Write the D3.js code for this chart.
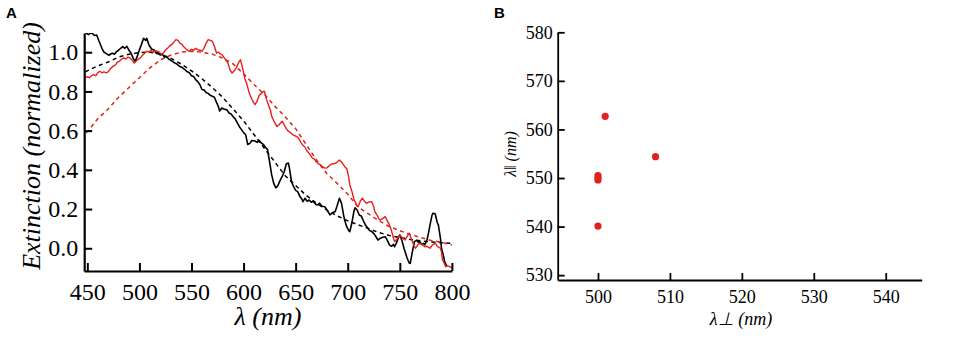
<!DOCTYPE html>
<html><head><meta charset="utf-8">
<script src="https://cdn.jsdelivr.net/npm/d3@7"></script>
<style>
html,body{margin:0;padding:0;background:#fff;}
svg{display:block;}
</style></head>
<body>
<svg id="chart" width="957" height="339"></svg>
<script>
// ---- Panel A data: wavelength (nm), normalized extinction ----
const blackMeasured = [[448,1.10],[451,1.09],[454,1.10],[457,1.085],[459,1.088],[461,1.06],[462,1.047],[464,1.02],[466,1.0],[467,0.997],[469,0.99],[471,0.985],[472,0.99],[474,0.995],[476,0.99],[478,1.003],[480,1.01],[482,1.02],[484,1.029],[486,1.02],[488,1.03],[490,1.01],[492,0.995],[494,0.97],[496,0.952],[498,0.98],[500,1.012],[502,1.04],[504,1.071],[506,1.06],[507,1.071],[509,1.04],[510,1.029],[512,1.015],[514,1.012],[516,0.995],[518,1.0],[520,0.986],[522,0.99],[524,0.975],[526,0.978],[528,0.965],[530,0.96],[532,0.952],[534,0.945],[536,0.94],[538,0.93],[540,0.925],[542,0.918],[544,0.91],[546,0.9],[548,0.895],[550,0.88],[552,0.876],[554,0.86],[556,0.85],[558,0.835],[560,0.81],[562,0.808],[564,0.795],[566,0.79],[568,0.78],[570,0.775],[572,0.77],[574,0.745],[576,0.72],[577,0.70],[579,0.715],[581,0.71],[584,0.706],[586,0.69],[588,0.685],[590,0.671],[592,0.66],[594,0.64],[596,0.62],[598,0.605],[600,0.59],[602,0.58],[604,0.529],[606,0.535],[608,0.55],[611,0.547],[613,0.54],[615,0.55],[617,0.537],[619,0.53],[621,0.515],[623,0.503],[625,0.44],[627,0.374],[629,0.33],[631,0.308],[633,0.32],[635,0.345],[637,0.365],[639,0.39],[641,0.43],[643,0.435],[644,0.41],[646,0.34],[648,0.315],[650,0.295],[652,0.289],[654,0.265],[656,0.25],[657,0.238],[659,0.255],[661,0.24],[663,0.246],[665,0.235],[667,0.24],[669,0.225],[671,0.221],[673,0.23],[675,0.215],[678,0.212],[680,0.195],[683,0.17],[685,0.18],[688,0.187],[690,0.22],[692,0.255],[694,0.23],[696,0.17],[697,0.144],[699,0.11],[701,0.09],[702,0.085],[704,0.13],[706,0.19],[707,0.206],[709,0.195],[711,0.17],[713,0.165],[715,0.14],[717,0.119],[719,0.105],[721,0.09],[723,0.085],[725,0.075],[727,0.06],[729,0.042],[731,0.05],[733,0.055],[736,0.059],[738,0.04],[740,0.017],[742,0.01],[744,0.02],[745,0.008],[747,0.03],[749,0.06],[750,0.068],[752,0.04],[754,0.0],[755,-0.017],[757,-0.05],[759,-0.075],[760,-0.077],[762,-0.02],[764,0.034],[766,0.04],[768,0.03],[769,0.034],[771,0.02],[773,0.025],[774,0.017],[776,0.04],[778,0.09],[779,0.119],[781,0.17],[782,0.179],[784,0.175],[786,0.13],[787,0.119],[789,0.05],[790,0.0],[792,-0.04],[793,-0.068],[795,-0.09]];

const redMeasured = [[448,0.869],[450,0.875],[452,0.87],[454,0.88],[456,0.886],[458,0.88],[460,0.895],[462,0.903],[464,0.895],[466,0.9],[468,0.894],[470,0.9],[472,0.915],[474,0.925],[475,0.929],[477,0.935],[479,0.95],[481,0.955],[483,0.965],[485,0.971],[487,0.965],[489,0.975],[491,0.971],[493,0.96],[495,0.945],[497,0.955],[499,0.965],[501,0.971],[503,0.985],[505,0.995],[507,1.005],[509,1.0],[511,1.01],[513,1.0],[515,1.008],[517,1.005],[519,1.0],[521,0.99],[523,0.996],[525,1.01],[527,1.02],[529,1.031],[531,1.04],[533,1.05],[535,1.064],[537,1.06],[539,1.045],[541,1.04],[542,1.031],[544,1.02],[546,1.01],[548,1.005],[550,1.015],[552,1.01],[554,1.02],[556,1.013],[558,1.01],[560,1.005],[562,1.02],[564,1.045],[566,1.064],[568,1.06],[570,1.056],[572,1.03],[574,0.996],[576,1.0],[578,0.99],[579,0.988],[581,0.975],[583,0.96],[585,0.945],[587,0.91],[589,0.894],[591,0.905],[593,0.92],[595,0.945],[597,0.962],[599,0.92],[601,0.869],[603,0.84],[605,0.8],[606,0.784],[608,0.76],[610,0.74],[611,0.733],[613,0.75],[615,0.78],[617,0.79],[619,0.8],[620,0.801],[622,0.76],[624,0.73],[626,0.7],[627,0.673],[629,0.65],[631,0.63],[632,0.622],[634,0.63],[637,0.648],[639,0.63],[641,0.61],[643,0.597],[645,0.59],[647,0.58],[649,0.575],[651,0.57],[653,0.56],[655,0.54],[657,0.525],[659,0.515],[661,0.495],[662,0.49],[664,0.476],[666,0.46],[668,0.455],[670,0.44],[672,0.43],[674,0.425],[676,0.415],[678,0.409],[680,0.41],[682,0.42],[683,0.425],[685,0.43],[688,0.433],[690,0.44],[692,0.45],[694,0.44],[696,0.425],[698,0.41],[699,0.408],[701,0.36],[702,0.323],[704,0.29],[706,0.25],[707,0.238],[709,0.215],[710,0.212],[712,0.24],[714,0.255],[716,0.24],[718,0.23],[720,0.235],[723,0.238],[725,0.21],[726,0.187],[728,0.17],[730,0.15],[731,0.144],[733,0.15],[736,0.161],[738,0.14],[740,0.119],[742,0.09],[744,0.05],[745,0.034],[747,0.045],[749,0.06],[750,0.068],[752,0.055],[755,0.042],[757,0.06],[759,0.077],[761,0.05],[763,0.02],[765,0.0],[767,0.015],[769,0.026],[771,0.02],[774,0.008],[776,0.01],[779,0.0],[781,0.015],[784,0.026],[786,0.01],[789,0.0],[790,-0.02],[791,-0.06],[793,-0.08],[794,-0.094],[796,-0.09],[798,-0.094],[800,-0.1]];

const blackFit = [[448,0.90],[460,0.93],[470,0.95],[480,0.975],[490,0.99],[500,0.998],[510,1.0],[520,0.99],[530,0.97],[540,0.94],[550,0.905],[560,0.865],[570,0.82],[580,0.77],[590,0.71],[600,0.65],[610,0.58],[620,0.51],[630,0.44],[640,0.37],[650,0.32],[660,0.27],[670,0.23],[680,0.195],[690,0.165],[700,0.14],[710,0.12],[720,0.10],[730,0.08],[740,0.065],[750,0.055],[760,0.045],[770,0.038],[780,0.032],[790,0.028],[800,0.025]];

const redFit = [[449,0.588],[460,0.66],[470,0.71],[480,0.77],[490,0.82],[500,0.87],[510,0.92],[520,0.96],[530,0.985],[540,1.0],[550,1.005],[560,1.0],[570,0.99],[580,0.97],[590,0.94],[600,0.89],[610,0.835],[620,0.785],[630,0.725],[640,0.67],[650,0.61],[660,0.53],[670,0.45],[680,0.38],[690,0.33],[700,0.275],[710,0.21],[720,0.175],[730,0.14],[740,0.11],[750,0.09],[760,0.07],[770,0.055],[780,0.04],[790,0.03],[800,0.017]];

const xTicksA = [450,500,550,600,650,700,750,800];
const yTicksA = [0.0,0.2,0.4,0.6,0.8,1.0];

// ---- Panel B data: λ⊥ (nm), λ‖ (nm) ----
const lambdaPerp = [500,500,500,500,501,508];
const lambdaPar  = [550.5,550.0,549.6,540.1,562.7,554.4];
const xTicksB = [500,510,520,530,540];
const yTicksB = [530,540,550,560,570,580];

const RED = "#e3211c";
const SERIF = "'Liberation Serif','Times New Roman',serif";
const svg = d3.select("#chart");

// ================= Panel A =================
const xA = d3.scaleLinear().domain([447,800]).range([84.2,451.9]);
const yA = d3.scaleLinear().domain([-0.116,1.098]).range([271,33]);

svg.append("defs").append("clipPath").attr("id","clipA")
  .append("rect").attr("x",84.2).attr("y",33).attr("width",451.9-84.2+2).attr("height",271-33);

const gA = svg.append("g");
const lineA = d3.line().x(d=>xA(d[0])).y(d=>yA(d[1]));
const plotA = gA.append("g").attr("clip-path","url(#clipA)");

plotA.append("path").datum(blackFit).attr("d",lineA)
  .attr("fill","none").attr("stroke","#000").attr("stroke-width",1.5).attr("stroke-dasharray","4,3.5");
plotA.append("path").datum(redFit).attr("d",lineA)
  .attr("fill","none").attr("stroke",RED).attr("stroke-width",1.5).attr("stroke-dasharray","4,3.5");
plotA.append("path").datum(blackMeasured).attr("d",lineA)
  .attr("fill","none").attr("stroke","#000").attr("stroke-width",1.6).attr("stroke-linejoin","round");
plotA.append("path").datum(redMeasured).attr("d",lineA)
  .attr("fill","none").attr("stroke",RED).attr("stroke-width",1.4).attr("stroke-linejoin","round");

const axXA = gA.append("g").attr("transform","translate(0,271)")
  .call(d3.axisBottom(xA).tickValues(xTicksA).tickSizeInner(-8).tickSizeOuter(0).tickPadding(12).tickFormat(d3.format("d")));
const axYA = gA.append("g").attr("transform","translate(84.2,0)")
  .call(d3.axisLeft(yA).tickValues(yTicksA).tickSizeInner(-8).tickSizeOuter(0).tickPadding(6).tickFormat(d3.format(".1f")));
[axXA,axYA].forEach(a=>{
  a.attr("font-family",null).attr("font-size",null);
  a.select(".domain").attr("stroke","#000").attr("stroke-width",2.2);
  a.selectAll(".tick line").attr("stroke","#000").attr("stroke-width",2);
  a.selectAll(".tick text").attr("fill","#000")
    .style("font-family",SERIF).style("font-size","24px");
});
axXA.selectAll(".tick text").attr("dy","0.71em");

gA.append("text").attr("transform","translate(40,146) rotate(-90)")
  .attr("text-anchor","middle")
  .style("font-family",SERIF).style("font-size","26px").style("font-style","italic")
  .text("Extinction (normalized)");
gA.append("text").attr("x",268).attr("y",325).attr("text-anchor","middle")
  .style("font-family",SERIF).style("font-size","26px").style("font-style","italic")
  .text("λ (nm)");
svg.append("text").attr("x",6).attr("y",18)
  .style("font-family","'Liberation Sans',Arial,sans-serif").style("font-size","15px").style("font-weight","bold")
  .text("A");

// ================= Panel B =================
const xB = d3.scaleLinear().domain([494.4,545]).range([557.7,921.7]);
const yB = d3.scaleLinear().domain([529,580]).range([280,32.3]);
const gB = svg.append("g");

const axXB = gB.append("g").attr("transform","translate(0,280)")
  .call(d3.axisBottom(xB).tickValues(xTicksB).tickSizeInner(-7).tickSizeOuter(0).tickPadding(10).tickFormat(d3.format("d")));
const axYB = gB.append("g").attr("transform","translate(557.7,0)")
  .call(d3.axisLeft(yB).tickValues(yTicksB).tickSizeInner(-7).tickSizeOuter(0).tickPadding(5).tickFormat(d3.format("d")));
[axXB,axYB].forEach(a=>{
  a.attr("font-family",null).attr("font-size",null);
  a.select(".domain").attr("stroke","#000").attr("stroke-width",1.8);
  a.selectAll(".tick line").attr("stroke","#000").attr("stroke-width",1.8);
  a.selectAll(".tick text").attr("fill","#000")
    .style("font-family",SERIF).style("font-size","18px");
});
axXB.selectAll(".tick text").attr("dy","0.71em");

gB.selectAll("circle.pt").data(lambdaPerp.map((v,i)=>[v,lambdaPar[i]])).enter()
  .append("circle").attr("class","pt")
  .attr("cx",d=>xB(d[0])).attr("cy",d=>yB(d[1])).attr("r",3.6).attr("fill",RED);

gB.append("text").attr("transform","translate(516,154) rotate(-90)")
  .attr("text-anchor","middle")
  .style("font-family",SERIF).style("font-size","16px").style("font-style","italic")
  .text("λ‖ (nm)");
gB.append("text").attr("x",741).attr("y",325).attr("text-anchor","middle")
  .style("font-family",SERIF).style("font-size","18px").style("font-style","italic")
  .text("λ⊥ (nm)");
svg.append("text").attr("x",494).attr("y",18)
  .style("font-family","'Liberation Sans',Arial,sans-serif").style("font-size","15px").style("font-weight","bold")
  .text("B");
</script>
</body></html>
